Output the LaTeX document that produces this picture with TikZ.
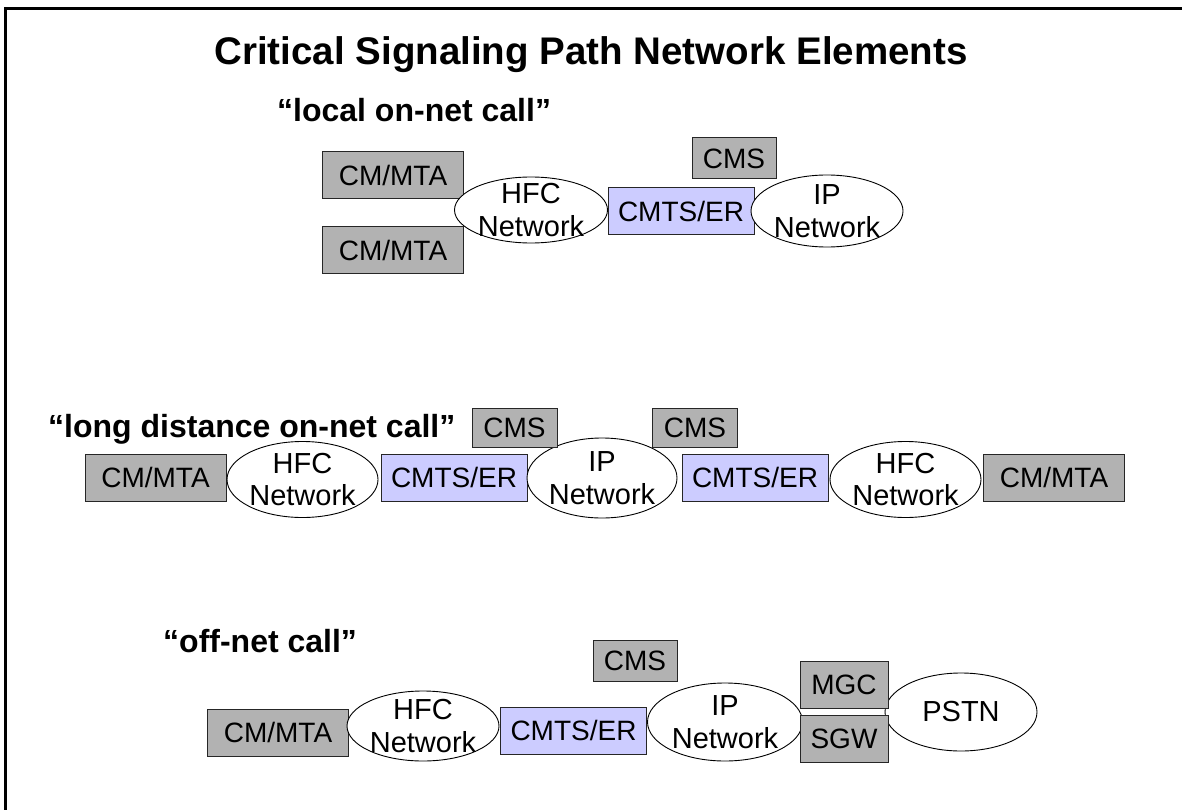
\documentclass[tikz,border=0pt]{standalone}
\usepackage{fontspec}
\setmainfont{Liberation Sans}
\usetikzlibrary{shapes.geometric}

\definecolor{elemgray}{RGB}{178,178,178}
\definecolor{cmtsblue}{RGB}{204,204,255}

\begin{document}
\begin{tikzpicture}[x=1pt, y=-1pt,
    elem/.style={draw=black!85, line width=1pt, rectangle, fill=elemgray, inner sep=0pt, minimum height=47pt, font=\fontsize{28}{32}\selectfont},
    cmts/.style={elem, fill=cmtsblue, minimum width=146pt},
    mta/.style={elem, minimum width=141pt},
    cms/.style={elem, minimum width=84pt, minimum height=41pt},
    net/.style={draw, line width=0.9pt, ellipse, fill=white, inner xsep=-12pt, inner ysep=-9pt, align=center, font=\fontsize{29}{32.5}\selectfont},
    call/.style={anchor=base west, inner sep=0pt, font=\fontsize{32}{36}\selectfont\bfseries}
]
    \useasboundingbox (0,0) rectangle (1182,810);
    \draw[line width=3pt] (5.5,810) -- (5.5,8.5) -- (1182,8.5);

    \node[font=\fontsize{38.5}{44}\selectfont\bfseries] (title) at (591,55) {Critical Signaling Path Network Elements};

    % local on-net call
    \node[call] (lbl1) at (277,122) {“local on-net call”};
    \node[mta] (mta1) at (393,175) {CM/MTA};
    \node[mta] (mta2) at (393,250) {CM/MTA};
    \node[net, minimum width=153pt, minimum height=66pt] (hfc1) at (531,210) {HFC\\Network};
    \node[cmts] (cmts1) at (681,211.5) {CMTS/ER};
    \node[net, minimum width=152pt, minimum height=72pt] (ip1) at (827,211) {IP\\Network};
    \node[cms] (cms1) at (734,158.5) {CMS};

    % long distance on-net call
    \node[call] (lbl2) at (48,437) {“long distance on-net call”};
    \node[mta] (mta3) at (155.5,477.5) {CM/MTA};
    \node[net, minimum width=151pt, minimum height=76pt] (hfc2) at (302.5,479.5) {HFC\\Network};
    \node[cmts] (cmts2) at (454,477.5) {CMTS/ER};
    \node[net, minimum width=150pt, minimum height=80pt] (ip2) at (602,478) {IP\\Network};
    \node[cmts] (cmts3) at (755,477.5) {CMTS/ER};
    \node[net, minimum width=151pt, minimum height=76pt] (hfc3) at (905.5,479.5) {HFC\\Network};
    \node[mta] (mta4) at (1054,477.5) {CM/MTA};
    \node[cms, minimum width=85pt, minimum height=39pt] (cms2) at (514.5,427.5) {CMS};
    \node[cms, minimum width=85pt, minimum height=39pt] (cms3) at (695,427.5) {CMS};

    % off-net call
    \node[call] (lbl3) at (163,652) {“off-net call”};
    \node[mta] (mta5) at (278,732.5) {CM/MTA};
    \node[net, minimum width=152pt, minimum height=70pt] (hfc4) at (423,726) {HFC\\Network};
    \node[cmts] (cmts4) at (573.5,730.5) {CMTS/ER};
    \node[net, minimum width=155pt, minimum height=78pt] (ip3) at (725,722) {IP\\Network};
    \node[net, minimum width=152pt, minimum height=78pt] (pstn) at (961,712) {PSTN};
    \node[elem, minimum width=88pt] (mgc) at (844,684.5) {MGC};
    \node[elem, minimum width=88pt] (sgw) at (844,739) {SGW};
    \node[cms] (cms4) at (635,660.5) {CMS};
\end{tikzpicture}
\end{document}
